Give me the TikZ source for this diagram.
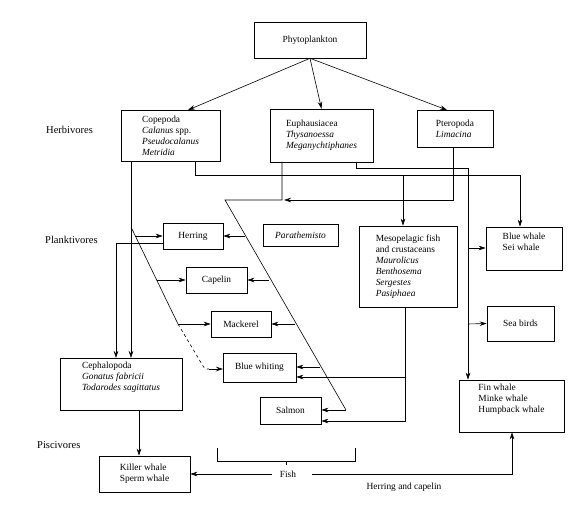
\documentclass[tikz,border=0pt]{standalone}
\usepackage{fontspec}
\setmainfont{Liberation Serif}
\usetikzlibrary{arrows.meta,calc}
\begin{document}
\begin{tikzpicture}[x=1pt,y=-1pt,
  box/.style={draw, line width=0.6pt, inner sep=0pt, align=left, font=\fontsize{9.4}{11}\selectfont},
  lbl/.style={font=\fontsize{10.5}{12}\selectfont, anchor=west, inner sep=0pt},
  txt/.style={font=\fontsize{9.4}{11}\selectfont, inner sep=0pt},
  conn/.style={line width=0.6pt},
  arr/.style={conn, -{Stealth[length=7pt,width=4.5pt]}},
]
\useasboundingbox (0,0) rectangle (580,510);

% side labels
\node[lbl] (herb) at (46,130) {Herbivores};
\node[lbl] (plank) at (45,240) {Planktivores};
\node[lbl] (pisc) at (37,445) {Piscivores};

% boxes
\node[box, minimum width=112pt, minimum height=36pt] (phyto) at (310,40) {Phytoplankton};
\node[box, minimum width=99pt, minimum height=51pt] (cope) at (170.5,135.5) {Copepoda\\\textit{Calanus} spp.\\\textit{Pseudocalanus}\\\textit{Metridia}};
\node[box, minimum width=103pt, minimum height=53pt] (euph) at (321.5,135.5) {Euphausiacea\\\textit{Thysanoessa}\\\textit{Meganychtiphanes}};
\node[box, minimum width=76pt, minimum height=37pt] (ptero) at (455,128.5) {Pteropoda\\\textit{Limacina}};
\node[box, minimum width=60pt, minimum height=26pt] (herr) at (193,236) {Herring};
\node[box, minimum width=75pt, minimum height=22pt] (para) at (300.5,235) {\textit{Parathemisto}};
\node[box, minimum width=61pt, minimum height=26pt] (cap) at (216.5,280) {Capelin};
\node[box, minimum width=60pt, minimum height=26pt] (mack) at (241,324) {Mackerel};
\node[box, minimum width=73pt, minimum height=29pt] (bw) at (259.5,367.5) {Blue whiting};
\node[box, minimum width=61pt, minimum height=27pt] (salm) at (290.5,410.5) {Salmon};
\node[box, minimum width=98pt, minimum height=81pt] (meso) at (408,266.5) {Mesopelagic fish\\and crustaceans\\\textit{Maurolicus}\\\textit{Benthosema}\\\textit{Sergestes}\\\textit{Pasiphaea}};
\node[box, minimum width=76pt, minimum height=43pt] (bwh) at (524,248.5) {Blue whale\\Sei whale\\[3pt]};
\node[box, minimum width=67pt, minimum height=35pt] (birds) at (520.5,323.5) {Sea birds};
\node[box, minimum width=105pt, minimum height=52pt] (fin) at (511.5,406) {Fin whale\\Minke whale\\Humpback whale\\[5pt]};
\node[box, minimum width=122pt, minimum height=52pt] (ceph) at (121,384) {Cephalopoda\\\textit{Gonatus fabricii}\\\textit{Todarodes sagittatus}\\[5pt]};
\node[box, minimum width=91pt, minimum height=36pt] (kill) at (144.5,474) {Killer whale\\Sperm whale};
\node[txt] (fish) at (288,474) {Fish};
\node[txt] (hc) at (404,487) {Herring and capelin};

% phytoplankton to herbivores
\draw[arr] (phyto.south) -- (188,110);
\draw[arr] (phyto.south) -- (euph.north);
\draw[arr] (phyto.south) -- (447,110);

% coordinates
\coordinate (ld0) at (131,227);
\coordinate (ldh) at (135,236);
\coordinate (ldc) at (157,280);
\coordinate (ldm) at (178,324);
\coordinate (ft) at (225,200);
\coordinate (fb) at (346,410);
\coordinate (rdh) at (245,236);
\coordinate (rdc) at (269,280);
\coordinate (rdm) at (295,324);
\coordinate (rdb) at (320,367);

% Copepoda left line -> Cephalopoda
\draw[arr] (131,161) -- (131,358);
\draw[conn] (ld0) -- (ldm);
\draw[arr] (ldh) -- (herr.west);
\draw[arr] (ldc) -- (cap.west);
\draw[arr] (ldm) -- (mack.west);
\draw[conn, dashed] (ldm) -- (203,366) .. controls (205,369) .. (209,369);
\draw[arr] (209,369) -- (223,369);
% Herring -> Cephalopoda
\draw[arr] ($(herr.west)+(0,7)$) -| (116,358);

% Copepoda right line -> Mesopelagic, Blue whale
\draw[arr] (195,161) |- (520,175) -- (bwh.north -| 520,0);
\draw[arr] (403,175) -- (meso.north -| 403,0);

% Euphausiacea right line -> Blue whale, Sea birds, Fin whale
\draw[arr] (356,162) |- (468,168) -- (fin.north -| 468,0);
\draw[arr] (468,248) -- (bwh.west |- 0,248);
\draw[arr] (468,324) -- (birds.west);

% funnel
\draw[arr] (453,147) |- (284,200);
\draw[conn] (282,162) -- (282,200) -- (ft) -- (fb);
\draw[arr] (rdh) -- (herr.east);
\draw[arr] (rdc) -- (cap.east);
\draw[arr] (rdm) -- (mack.east);
\draw[arr] (rdb) -- (bw.east |- 0,367);
\draw[arr] (fb) -- (salm.east |- 0,410);

% Mesopelagic -> Blue whiting, Salmon
\draw[arr] (meso.south -| 405,0) |- (salm.east |- 0,421);
\draw[arr] (405,377) -- (bw.east |- 0,377);

% Cephalopoda -> Killer whale
\draw[arr] (ceph.south -| 139,0) -- (kill.north -| 139,0);

% Fish bracket
\draw[conn] (217,448) -- (217,461) -- (355,461) -- (355,448);
\draw[conn] (286,461) -- (286,465);
\draw[arr] ($(fish.west)+(-8,0)$) -- (kill.east);
\draw[arr] ($(fish.east)+(16,0)$) -| (fin.south -| 512,0);
\end{tikzpicture}
\end{document}
